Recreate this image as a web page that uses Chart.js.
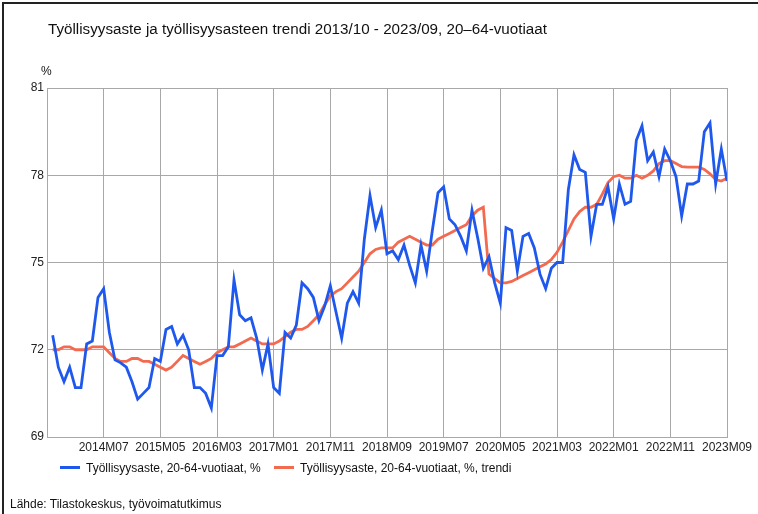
<!DOCTYPE html>
<html>
<head>
<meta charset="utf-8">
<script src="https://cdn.jsdelivr.net/npm/chart.js@4/dist/chart.umd.min.js"></script>
<style>
  html, body { margin:0; padding:0; background:#fff; }
  body { width:758px; height:514px; position:relative; overflow:hidden; font-family:"Liberation Sans", Arial, sans-serif; color:#111; }
  #frame { position:absolute; left:2px; top:2px; width:760px; height:520px; border-left:2px solid #222; border-top:2px solid #222; box-sizing:border-box; }
  #wrap { position:absolute; left:0; top:0; width:758px; height:514px; }
  .txt { position:absolute; white-space:nowrap; }
  #title { left:48px; top:20px; font-size:15.2px; }
  #unit { left:41px; top:64px; font-size:12px; }
  #source { left:10px; top:497px; font-size:12px; }
  .leg { position:absolute; top:461px; font-size:12px; white-space:nowrap; }
  .leg span.sw { display:inline-block; width:20px; height:3px; vertical-align:middle; margin-right:6px; position:relative; top:-1px; }
</style>
</head>
<body>
<div id="frame"></div>
<div id="wrap"><canvas id="c" width="758" height="514"></canvas></div>
<div class="txt" id="title">Työllisyysaste ja työllisyysasteen trendi 2013/10 - 2023/09, 20–64-vuotiaat</div>
<div class="txt" id="unit">%</div>
<div class="leg" id="leg1" style="left:60px;"><span class="sw" style="background:#1f58ec;"></span>Työllisyysaste, 20-64-vuotiaat, %</div>
<div class="leg" id="leg2" style="left:274px;"><span class="sw" style="background:#f26a50;"></span>Työllisyysaste, 20-64-vuotiaat, %, trendi</div>
<div class="txt" id="source">Lähde: Tilastokeskus, työvoimatutkimus</div>
<script>
// Months 2013M10 .. 2023M09
const months = [];
(function(){ let y=2013, m=10; for (let i=0;i<120;i++){ months.push(y+'M'+String(m).padStart(2,'0')); m++; if(m>12){m=1;y++;} } })();

const tickIndices = [9,19,29,39,49,59,69,79,89,99,109,119];
const yTicks = [69,72,75,78,81];

const employmentRate = [
  72.5,71.4,70.9,71.4,70.7,70.7,72.2,72.3,73.8,74.1,
  72.6,71.65,71.55,71.4,70.9,70.3,70.5,70.7,71.7,71.6,
  72.7,72.8,72.2,72.5,72.0,70.7,70.7,70.5,70.0,71.8,
  71.8,72.1,74.4,73.2,73.0,73.1,72.4,71.3,72.2,70.7,
  70.5,72.6,72.4,72.85,74.3,74.1,73.8,73.0,73.5,74.2,
  73.3,72.4,73.6,74.0,73.6,75.8,77.3,76.2,76.8,75.3,
  75.4,75.1,75.6,74.9,74.3,75.6,74.7,76.1,77.4,77.6,
  76.5,76.3,75.9,75.4,76.8,75.85,74.8,75.2,74.3,73.6,
  76.2,76.1,74.7,75.9,76.0,75.5,74.6,74.1,74.8,75.0,
  75.0,77.5,78.7,78.2,78.1,75.9,77.0,77.0,77.6,76.5,
  77.7,77.0,77.1,79.2,79.7,78.5,78.8,77.95,78.9,78.5,
  77.95,76.6,77.7,77.7,77.8,79.5,79.8,77.7,78.9,77.8
];

const employmentTrend = [
  72.0,72.0,72.1,72.1,72.0,72.0,72.0,72.1,72.1,72.1,
  71.9,71.7,71.6,71.6,71.7,71.7,71.6,71.6,71.5,71.4,
  71.3,71.4,71.6,71.8,71.7,71.6,71.5,71.6,71.7,71.9,
  72.0,72.1,72.1,72.2,72.3,72.4,72.3,72.2,72.2,72.2,
  72.3,72.45,72.6,72.7,72.7,72.8,73.0,73.2,73.55,73.85,
  74.0,74.1,74.3,74.5,74.7,75.0,75.3,75.45,75.5,75.5,
  75.5,75.7,75.8,75.9,75.8,75.7,75.6,75.6,75.8,75.9,
  76.0,76.1,76.2,76.3,76.6,76.8,76.9,74.6,74.45,74.3,
  74.3,74.35,74.45,74.55,74.65,74.75,74.85,74.95,75.1,75.35,
  75.7,76.1,76.5,76.75,76.9,76.9,77.0,77.35,77.75,77.95,
  78.0,77.9,77.9,78.0,77.9,78.0,78.15,78.4,78.5,78.5,
  78.4,78.3,78.28,78.28,78.28,78.2,78.05,77.85,77.8,77.9
];

const toPts = arr => arr.map((v,i)=>({x:i, y:v}));

new Chart(document.getElementById('c'), {
  type: 'line',
  data: {
    datasets: [
      { label:'Työllisyysaste, 20-64-vuotiaat, %', data: toPts(employmentRate), borderColor:'#1f58ec', borderWidth:2.8, pointRadius:0, tension:0, order:1 },
      { label:'Työllisyysaste, 20-64-vuotiaat, %, trendi', data: toPts(employmentTrend), borderColor:'#f26a50', borderWidth:2.8, pointRadius:0, tension:0, order:2 }
    ]
  },
  options: {
    responsive:false, animation:false,
    layout:{ padding:{ left:0, right:31, top:88, bottom:57 } },
    plugins:{ legend:{display:false}, title:{display:false}, tooltip:{enabled:false} },
    scales:{
      x:{
        type:'linear', min:-1, max:119,
        afterBuildTicks: s => { s.ticks = tickIndices.map(v=>({value:v})); },
        afterFit: s => { s.height = 20; },
        ticks:{ autoSkip:false, maxRotation:0, padding:3, color:'#222', font:{family:'"Liberation Sans", Arial, sans-serif', size:12},
          callback: v => months[v] || '' },
        grid:{ color:'#a8a8a8', lineWidth:1, drawTicks:false },
        border:{ color:'#a8a8a8', width:1 }
      },
      y:{
        min:69, max:81,
        afterBuildTicks: s => { s.ticks = yTicks.map(v=>({value:v})); },
        afterFit: s => { s.width = 47; },
        ticks:{ padding:3, color:'#222', font:{family:'"Liberation Sans", Arial, sans-serif', size:12} },
        grid:{ color:'#a8a8a8', lineWidth:1, drawTicks:false },
        border:{ color:'#a8a8a8', width:1 }
      }
    }
  }
});
</script>
</body>
</html>
